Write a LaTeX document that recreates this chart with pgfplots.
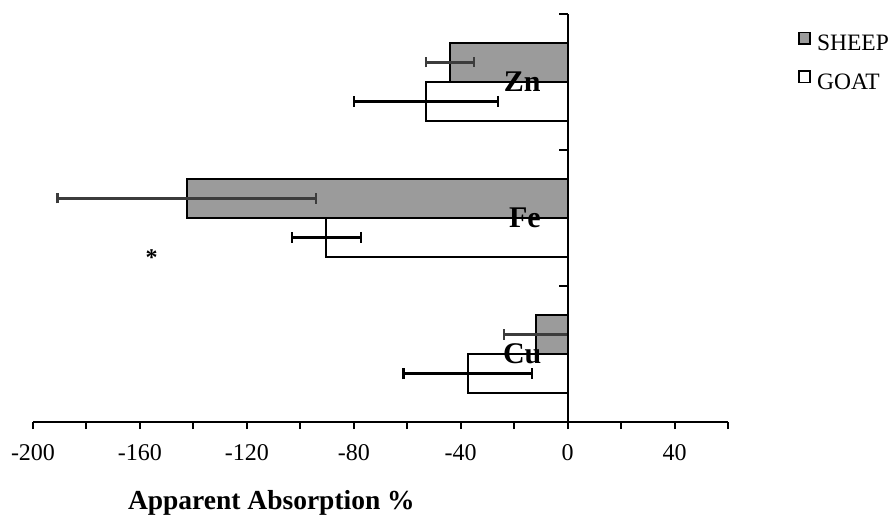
\documentclass[border=0pt]{standalone}
\usepackage{fontspec}
\setmainfont{Liberation Serif}
\usepackage{pgfplots}
\pgfplotsset{compat=1.18}
\definecolor{sheepgray}{RGB}{155,155,155}
\definecolor{errgray}{RGB}{60,60,60}
\begin{document}
\begin{tikzpicture}
\path[use as bounding box] (-33bp,-97bp) rectangle (863bp,422bp);
\begin{axis}[
  at={(0,0)}, anchor=south west,
  scale only axis, width=695bp, height=408bp,
  xmin=-200, xmax=60, ymin=0.5, ymax=3.5,
  axis x line*=bottom, axis y line=none,
  xtick={-200,-160,-120,-80,-40,0,40},
  xticklabels={-200,-160,-120,-80,-40,0,40},
  minor xtick={-180,-140,-100,-60,-20,20,60},
  ytick=\empty,
  tick align=outside,
  major tick length=7bp, minor tick length=7bp,
  tick style={black, line width=2bp},
  minor tick style={black, line width=2bp},
  x axis line style={line width=2.2bp, -},
  xticklabel style={font=\fontsize{24bp}{24bp}\selectfont, anchor=base, yshift=-31bp},
  xlabel={\textbf{Apparent Absorption \%}},
  xlabel style={at={(rel axis cs:0.343,-0.215)}, anchor=base, font=\fontsize{27.5bp}{27.5bp}\selectfont},
  clip=false,
  xbar, bar width=39bp,
  legend cell align=left,
  legend style={at={(rel axis cs:1.1007,0.957)}, anchor=north west, draw=none, fill=none,
    inner sep=0pt, outer sep=0pt, font=\fontsize{23.5bp}{23.5bp}\selectfont,
    row sep=18bp, column sep=6bp, nodes={inner sep=0pt}},
]
\addplot[xbar, bar width=39bp, bar shift=19.5bp, fill=sheepgray, draw=black, line width=2bp,
  legend image code/.code={\draw[fill=sheepgray, draw=black, line width=1.6bp] (0bp,0bp) rectangle (11.5bp,11.5bp);},
  error bars/.cd, x dir=both, x explicit, error mark=|,
  error bar style={line width=2.2bp, color=errgray},
  error mark options={mark size=5bp, line width=2.2bp, color=errgray}]
  coordinates {(-11.8,1) +- (12,0) (-142.4,2) +- (48.4,0) (-44,3) +- (9,0)};
\addlegendentry{SHEEP}
\addplot[xbar, bar width=39bp, bar shift=-19.5bp, fill=white, draw=black, line width=2bp,
  legend image code/.code={\draw[fill=white, draw=black, line width=1.6bp] (0bp,0bp) rectangle (11.5bp,11.5bp);},
  error bars/.cd, x dir=both, x explicit, error mark=|,
  error bar style={line width=2.2bp, color=black},
  error mark options={mark size=5.5bp, line width=2.2bp, color=black}]
  coordinates {(-37.4,1) +- (24,0) (-90.3,2) +- (12.9,0) (-53,3) +- (27,0)};
\addlegendentry{GOAT}
\draw[line width=2.2bp] (axis cs:0,0.5) -- (axis cs:0,3.5);
\draw[line width=2bp] (axis cs:0,1.5) -- ++(-9bp,0bp);
\draw[line width=2bp] (axis cs:0,2.5) -- ++(-9bp,0bp);
\draw[line width=2bp] (axis cs:0,3.5) -- ++(-9bp,0bp);
\node[font=\bfseries\fontsize{30bp}{30bp}\selectfont] at (axis cs:-17,3) {Zn};
\node[font=\bfseries\fontsize{30bp}{30bp}\selectfont] at (axis cs:-16,2) {Fe};
\node[font=\bfseries\fontsize{30bp}{30bp}\selectfont] at (axis cs:-17,1) {Cu};
\node[font=\bfseries\fontsize{24bp}{24bp}\selectfont] at (axis cs:-155.6,1.71) {*};
\end{axis}
\end{tikzpicture}
\end{document}
